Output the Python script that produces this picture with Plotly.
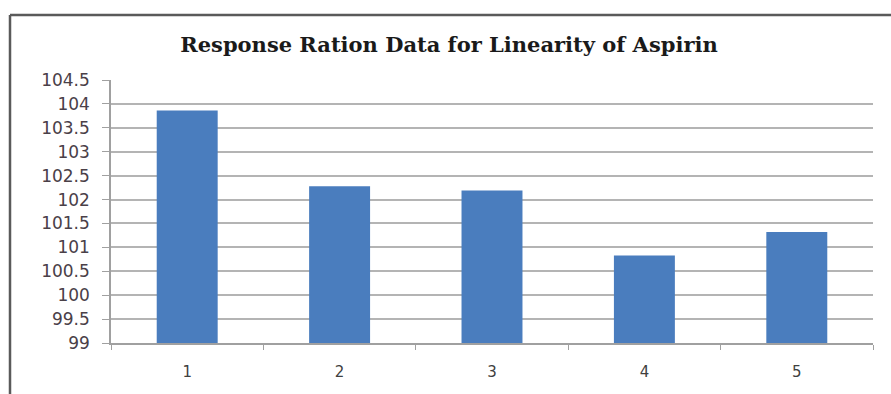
import plotly.graph_objects as go

# Linearity levels and response-ratio values
levels = ["1", "2", "3", "4", "5"]
response_ratio = [103.86, 102.28, 102.19, 100.83, 101.32]
y_ticks = [99, 99.5, 100, 100.5, 101, 101.5, 102, 102.5, 103, 103.5, 104, 104.5]

W, H = 891, 394
L, R, T, B = 111, 18, 80, 51
pw, ph = W - L - R, H - T - B

fig = go.Figure(
    go.Bar(
        x=levels,
        y=response_ratio,
        marker=dict(color="#4a7dbe", line=dict(width=0)),
    )
)

fig.update_layout(
    width=W,
    height=H,
    margin=dict(l=L, r=R, t=T, b=B),
    paper_bgcolor="white",
    plot_bgcolor="white",
    bargap=0.6,
    showlegend=False,
    title=dict(
        text="<b>Response Ration Data for Linearity of Aspirin</b>",
        font=dict(family="DejaVu Serif", size=21, color="#1a1a1a"),
        x=449 / W,
        xref="container",
        xanchor="center",
        y=(H - 45) / H,
        yanchor="middle",
    ),
    xaxis=dict(
        type="category",
        tickson="boundaries",
        ticks="outside",
        ticklen=5,
        tickcolor="#a0a0a0",
        showline=True,
        linecolor="#a0a0a0",
        linewidth=1.5,
        showgrid=False,
        tickfont=dict(family="DejaVu Sans", size=15, color="#404040"),
        ticklabelstandoff=14,
    ),
    yaxis=dict(
        range=[99, 104.5],
        tickvals=y_ticks,
        ticktext=[f"{v:g}" for v in y_ticks],
        ticks="outside",
        ticklen=7,
        tickcolor="#a0a0a0",
        showline=True,
        linecolor="#a0a0a0",
        linewidth=1.5,
        showgrid=True,
        gridcolor="#b4b4b4",
        gridwidth=1.5,
        zeroline=False,
        tickfont=dict(family="DejaVu Sans", size=17, color="#4a4048"),
        ticklabelstandoff=9,
    ),
)

# Chart-area frame: top and left edges
top_y = (H - 15 - B) / ph
left_x = (10 - L) / pw
fig.add_shape(type="line", xref="paper", yref="paper",
              x0=left_x, x1=(W - L) / pw, y0=top_y, y1=top_y,
              line=dict(color="#5a5a5a", width=2.5))
fig.add_shape(type="line", xref="paper", yref="paper",
              x0=left_x, x1=left_x, y0=top_y, y1=-B / ph,
              line=dict(color="#5a5a5a", width=2.5))

fig.write_html("out.html")
